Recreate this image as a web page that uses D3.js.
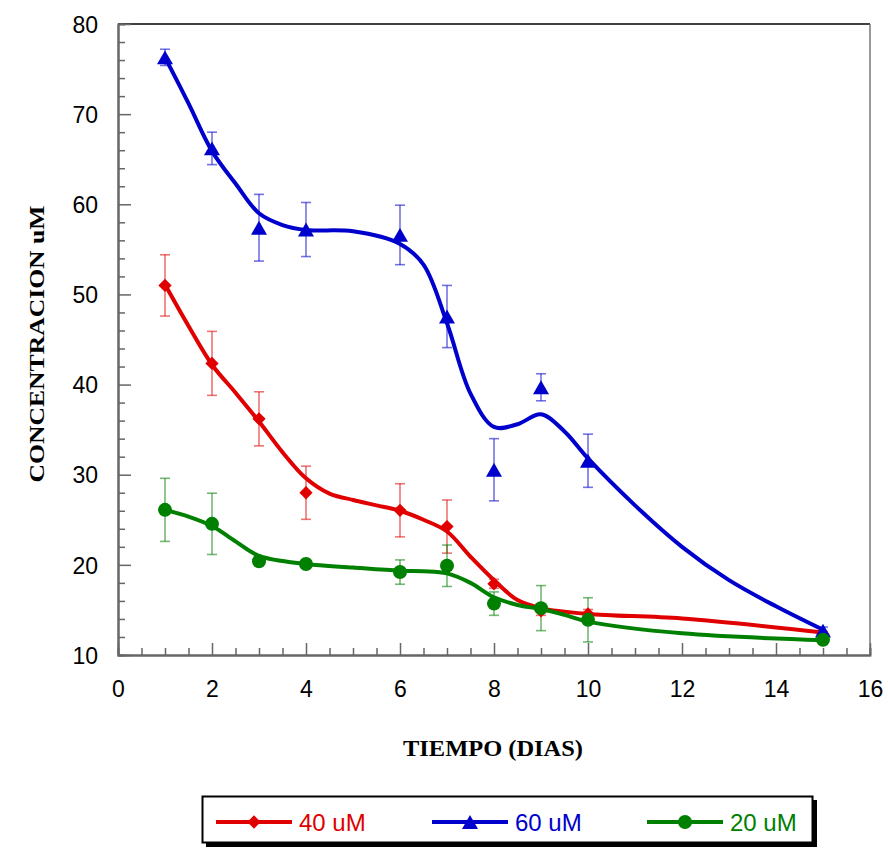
<!DOCTYPE html>
<html>
<head>
<meta charset="utf-8">
<script src="https://cdn.jsdelivr.net/npm/d3@7"></script>
<style>
  html, body { margin: 0; padding: 0; background: #fff; }
  svg { display: block; }
</style>
</head>
<body>
<svg id="chart" width="888" height="848"></svg>
<script>
// Sampling days
const days = [1, 2, 3, 4, 6, 7, 8, 9, 10, 15];

// Mean concentration (uM) and error per series
const c40 = [51.0, 42.35, 36.2, 28.0, 26.05, 24.25, 17.9, 14.9, 14.55, 12.3];
const c40Err = [3.4, 3.55, 3.0, 2.95, 2.95, 2.95, 0.5, 0.5, 0.5, 0.3];
const c60 = [76.3, 66.2, 57.4, 57.2, 56.6, 47.55, 30.55, 39.7, 31.55, 12.7];
const c60Err = [0.9, 1.8, 3.7, 3.0, 3.3, 3.45, 3.45, 1.5, 2.95, 0.4];
const c20 = [26.1, 24.55, 20.4, 20.1, 19.2, 19.9, 15.7, 15.2, 13.9, 11.7];
const c20Err = [3.5, 3.4, 0.5, 0.4, 1.35, 2.3, 1.3, 2.5, 2.45, 0.4];

// Smoothed trend lines (day, value)
const fit40Days = [1, 1.5, 2, 2.5, 3, 3.5, 4, 4.5, 5, 5.5, 6, 6.5, 7, 7.5, 8, 8.5, 9, 10, 12, 15];
const fit40 = [51.1, 46.5, 42.2, 39.1, 35.9, 32.5, 29.6, 27.9, 27.2, 26.6, 26.0, 25.0, 23.7, 20.9, 18.3, 16.1, 15.2, 14.55, 14.05, 12.5];
const fit60Days = [1, 1.5, 2, 2.5, 3, 3.5, 4, 5, 6, 6.5, 7, 7.5, 8, 8.5, 9, 9.5, 10, 11, 12, 13, 14, 15];
const fit60 = [76.3, 71.2, 65.9, 62.3, 59.0, 57.7, 57.15, 57.0, 55.6, 53.3, 46.8, 39.0, 35.3, 35.6, 36.7, 34.8, 31.8, 26.6, 22.0, 18.3, 15.4, 12.8];
const fit20Days = [1, 1.5, 2, 2.5, 3, 4, 5, 6, 6.5, 7, 7.5, 8, 8.5, 9, 9.5, 10, 12, 15];
const fit20 = [26.1, 25.35, 24.3, 22.6, 21.0, 20.1, 19.7, 19.35, 19.3, 19.05, 18.0, 16.4, 15.55, 15.1, 14.45, 13.7, 12.4, 11.65];

// Axis tick labels
const xTickLabels = [0, 2, 4, 6, 8, 10, 12, 14, 16];
const yTickLabels = [10, 20, 30, 40, 50, 60, 70, 80];

const seriesNames = ["40 uM", "60 uM", "20 uM"];
const seriesColors = ["#e00000", "#0000cc", "#008000"];

const series = [
  { name: seriesNames[0], color: seriesColors[0], vals: c40, err: c40Err, fx: fit40Days, fy: fit40, shape: "diamond" },
  { name: seriesNames[1], color: seriesColors[1], vals: c60, err: c60Err, fx: fit60Days, fy: fit60, shape: "triangle" },
  { name: seriesNames[2], color: seriesColors[2], vals: c20, err: c20Err, fx: fit20Days, fy: fit20, shape: "circle" }
];

const svg = d3.select("#chart");
const m = { left: 118, right: 870, top: 24, bottom: 655 };

const x = d3.scaleLinear().domain([0, 16]).range([m.left, m.right]);
const y = d3.scaleLinear().domain([10, 80]).range([m.bottom, m.top]);

const axisGray = "#666";

// Frame: top (black) and right (gray) borders
svg.append("line").attr("x1", m.left).attr("x2", m.right).attr("y1", m.top).attr("y2", m.top)
  .attr("stroke", "#000").attr("stroke-width", 1.5);
svg.append("line").attr("x1", m.right).attr("x2", m.right).attr("y1", m.top).attr("y2", m.bottom)
  .attr("stroke", "#777").attr("stroke-width", 1.5);

// Minor ticks
const xMinor = d3.range(0.5, 16, 0.5).filter(d => d % 2 !== 0);
const yMinor = d3.range(12, 80, 2).filter(d => d % 10 !== 0);

const xAxisMinor = d3.axisBottom(x).tickValues(xMinor).tickSize(-7).tickFormat("");
const xAxisMajor = d3.axisBottom(x).tickValues(xTickLabels).tickSize(-12).tickPadding(26).tickSizeOuter(0);
const yAxisMinor = d3.axisLeft(y).tickValues(yMinor).tickSize(-7).tickFormat("");
const yAxisMajor = d3.axisLeft(y).tickValues(yTickLabels).tickSize(-13).tickPadding(20).tickSizeOuter(0);

function styleAxis(g) {
  g.selectAll("path.domain").attr("stroke", axisGray).attr("stroke-width", 2);
  g.selectAll(".tick line").attr("stroke", axisGray).attr("stroke-width", 1.5);
  g.selectAll(".tick text").attr("font-family", "Liberation Sans, Arial, sans-serif")
    .attr("font-size", 23).attr("fill", "#000");
}

svg.append("g").attr("transform", `translate(0,${m.bottom})`).call(xAxisMinor).call(styleAxis);
svg.append("g").attr("transform", `translate(0,${m.bottom})`).call(xAxisMajor).call(styleAxis);
svg.append("g").attr("transform", `translate(${m.left},0)`).call(yAxisMinor).call(styleAxis);
svg.append("g").attr("transform", `translate(${m.left},0)`).call(yAxisMajor).call(styleAxis)
  .selectAll(".tick text").attr("dy", "0.36em");

// Axis titles
svg.append("text").attr("x", 493).attr("y", 756).attr("text-anchor", "middle")
  .attr("font-family", "Liberation Serif, Times New Roman, serif").attr("font-weight", "bold")
  .attr("font-size", 23).attr("textLength", 180).attr("lengthAdjust", "spacingAndGlyphs")
  .text("TIEMPO (DIAS)");
svg.append("text").attr("transform", `translate(44,344) rotate(-90)`).attr("text-anchor", "middle")
  .attr("font-family", "Liberation Serif, Times New Roman, serif").attr("font-weight", "bold")
  .attr("font-size", 21).attr("textLength", 277).attr("lengthAdjust", "spacingAndGlyphs")
  .text("CONCENTRACION uM");

// Marker generators
const triSize = 111;
const triY0 = Math.sqrt(triSize / (3 * Math.sqrt(3)));
function drawMarker(g, shape, color, cx, cy) {
  if (shape === "circle") {
    g.append("circle").attr("cx", cx).attr("cy", cy).attr("r", 7).attr("fill", color);
  } else if (shape === "triangle") {
    g.append("path").attr("d", d3.symbol().type(d3.symbolTriangle).size(triSize)())
      .attr("transform", `translate(${cx},${cy + triY0 / 2})`).attr("fill", color);
  } else {
    g.append("path").attr("d", d3.symbol().type(d3.symbolSquare).size(88)())
      .attr("transform", `translate(${cx},${cy}) rotate(45)`).attr("fill", color);
  }
}

const line = d3.line().x(d => x(d[0])).y(d => y(d[1])).curve(d3.curveCatmullRom.alpha(0.5));

const plot = svg.append("g");

// Error bars
series.forEach(s => {
  const g = plot.append("g").attr("stroke", s.color).attr("stroke-opacity", 0.55).attr("stroke-width", 1.6);
  days.forEach((d, i) => {
    const cx = x(d), hi = y(s.vals[i] + s.err[i]), lo = y(s.vals[i] - s.err[i]);
    g.append("line").attr("x1", cx).attr("x2", cx).attr("y1", hi).attr("y2", lo);
    g.append("line").attr("x1", cx - 5).attr("x2", cx + 5).attr("y1", hi).attr("y2", hi);
    g.append("line").attr("x1", cx - 5).attr("x2", cx + 5).attr("y1", lo).attr("y2", lo);
  });
});

// Trend lines and markers
series.forEach(s => {
  const pts = s.fx.map((d, i) => [d, s.fy[i]]);
  plot.append("path").datum(pts).attr("d", line).attr("fill", "none")
    .attr("stroke", s.color).attr("stroke-width", 4).attr("stroke-linejoin", "round");
  const mg = plot.append("g");
  days.forEach((d, i) => drawMarker(mg, s.shape, s.color, x(d), y(s.vals[i])));
});

// Legend box with drop shadow
const lg = svg.append("g");
lg.append("rect").attr("x", 206).attr("y", 800).attr("width", 611).attr("height", 47).attr("fill", "#000");
lg.append("rect").attr("x", 202.5).attr("y", 796.5).attr("width", 610).attr("height", 46)
  .attr("fill", "#fff").attr("stroke", "#000").attr("stroke-width", 2);

const legendX = [216, 432, 647];
const legendY = 822;
series.forEach((s, i) => {
  const x0 = legendX[i];
  lg.append("line").attr("x1", x0).attr("x2", x0 + 76).attr("y1", legendY).attr("y2", legendY)
    .attr("stroke", s.color).attr("stroke-width", 4);
  drawMarker(lg, s.shape, s.color, x0 + 38, legendY);
  lg.append("text").attr("x", x0 + 83).attr("y", legendY + 9)
    .attr("font-family", "Liberation Sans, Arial, sans-serif").attr("font-size", 24)
    .attr("fill", s.color).text(s.name);
});
</script>
</body>
</html>
